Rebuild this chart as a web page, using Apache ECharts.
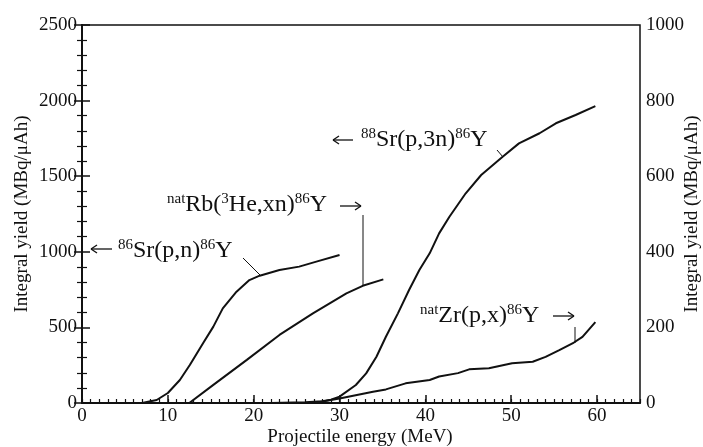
<!DOCTYPE html>
<html><head><meta charset="utf-8">
<script src="https://cdn.jsdelivr.net/npm/echarts@6/dist/echarts.min.js"></script>
<style>html,body{margin:0;padding:0;background:#fff}#c{width:703px;height:447px}</style>
</head><body><div id="c"></div>
<script>
// ---- data ----
const srPnEnergy = [7, 8.7, 10, 11.4, 12.56, 14.1, 15.3, 16.4, 18, 19.5, 20.7, 23, 25.3, 27.3, 30];
const srPnYield  = [0, 20, 66, 152, 251, 395, 505, 626, 736, 813, 842, 880, 902, 935, 979];

const rbEnergy = [12.5, 15.3, 19.2, 23, 26.9, 30.8, 32.7, 35.1];
const rbYield  = [0, 48, 114, 180, 237, 290, 310, 327];

const sr88Energy = [22, 26, 28, 29, 30, 31.9, 33.1, 34.3, 35.4, 36.8, 38.1, 39.3, 40.5, 41.6, 42.8, 44.7, 46.5, 49, 50.9, 53.3, 55.2, 57.5, 59.8];
const sr88Yield  = [0, 5, 12, 22, 42, 119, 196, 306, 438, 593, 747, 880, 990, 1122, 1232, 1387, 1508, 1629, 1717, 1784, 1850, 1905, 1964];

const zrEnergy = [27, 30, 33.9, 35.4, 37.7, 40.5, 41.6, 43.8, 45.1, 47.4, 50.1, 52.5, 54, 55.6, 57.3, 58.3, 59.8];
const zrYield  = [0, 12, 30, 36, 52, 61, 70, 79, 89, 92, 105, 109, 122, 140, 160, 175, 214];

const xAxisTitle = 'Projectile energy (MeV)';
const yAxisTitle = 'Integral yield (MBq/μAh)';

// ---- chart ----
const pairs = (xs, ys) => xs.map((x, i) => [x, ys[i]]);
const FF = 'Liberation Serif, Times New Roman, serif';
const INK = '#111';
const plain = v => String(v);
const chart = echarts.init(document.getElementById('c'), null, {renderer: 'canvas'});

const lineSeries = (name, xs, ys, yIdx) => ({
  name, type: 'line', xAxisIndex: 0, yAxisIndex: yIdx, data: pairs(xs, ys),
  showSymbol: false, smooth: false, lineStyle: {color: INK, width: 2}, silent: true, z: 5
});

const rich = {
  m: {fontSize: 24, fontFamily: FF, lineHeight: 26, color: INK},
  s: {fontSize: 15, fontFamily: FF, lineHeight: 16, verticalAlign: 'top', color: INK}
};
const label = (x, y, text) => ({type: 'text', x, y, z: 10, silent: true,
  style: {text, rich, align: 'left', verticalAlign: 'middle', fill: INK, fontFamily: FF}});
const seg = (x1, y1, x2, y2, w) => ({type: 'line', z: 10, silent: true,
  shape: {x1, y1, x2, y2}, style: {stroke: INK, lineWidth: w || 1}});
// arrow drawn as a thin shaft plus a two-stroke head; tip at (tx, y)
const arrow = (tx, tailx, y) => {
  const d = tx < tailx ? 1 : -1;
  return {type: 'group', children: [
    seg(tailx, y, tx, y, 1.3),
    seg(tx, y, tx + d * 6, y - 4, 1.3),
    seg(tx, y, tx + d * 6, y + 4, 1.3)
  ]};
};

chart.setOption({
  animation: false,
  backgroundColor: '#fff',
  grid: {left: 82, right: 63, top: 25, bottom: 44, show: true, borderColor: INK, borderWidth: 1.5},
  xAxis: [
    {type: 'value', position: 'bottom', min: 0, max: 65, interval: 10,
      axisLine: {show: true, lineStyle: {color: INK, width: 2}},
      axisTick: {show: true, inside: true, length: 8, lineStyle: {color: INK, width: 1.5}},
      minorTick: {show: false},
      splitLine: {show: false},
      axisLabel: {color: INK, fontFamily: FF, fontSize: 19, margin: 4, showMaxLabel: false, formatter: plain}},
    {type: 'value', position: 'bottom', min: 0, max: 65, interval: 1,
      axisLine: {show: false},
      axisTick: {show: true, inside: true, length: 4, lineStyle: {color: INK, width: 1.2}},
      splitLine: {show: false}, axisLabel: {show: false}}
  ],
  yAxis: [
    {type: 'value', position: 'left', min: 0, max: 2500, interval: 500,
      axisLine: {show: true, lineStyle: {color: INK, width: 2}},
      axisTick: {show: true, inside: true, length: 8, lineStyle: {color: INK, width: 1.5}},
      minorTick: {show: true, splitNumber: 5, length: 5, lineStyle: {color: INK, width: 1.2}},
      splitLine: {show: false},
      axisLabel: {color: INK, fontFamily: FF, fontSize: 19, margin: 5, formatter: plain}},
    {type: 'value', position: 'right', min: 0, max: 1000, interval: 200,
      axisLine: {show: true, lineStyle: {color: INK, width: 2}},
      axisTick: {show: true, inside: true, length: 8, lineStyle: {color: INK, width: 1.5}},
      minorTick: {show: true, splitNumber: 5, length: 5, lineStyle: {color: INK, width: 1.2}},
      splitLine: {show: false},
      axisLabel: {color: INK, fontFamily: FF, fontSize: 19, margin: 6, formatter: plain}}
  ],
  series: [
    lineSeries('86Sr(p,n)86Y', srPnEnergy, srPnYield, 0),
    lineSeries('natRb(3He,xn)86Y', rbEnergy, rbYield, 1),
    lineSeries('88Sr(p,3n)86Y', sr88Energy, sr88Yield, 0),
    lineSeries('natZr(p,x)86Y', zrEnergy, zrYield, 1)
  ],
  graphic: [
    // axis titles
    {type: 'text', x: 360, y: 437, silent: true,
      style: {text: xAxisTitle, align: 'center', verticalAlign: 'middle', fill: INK, font: '19px ' + FF}},
    {type: 'text', x: 22, y: 214, rotation: Math.PI / 2, silent: true,
      style: {text: yAxisTitle, align: 'center', verticalAlign: 'middle', fill: INK, font: '19px ' + FF}},
    {type: 'text', x: 692, y: 214, rotation: Math.PI / 2, silent: true,
      style: {text: yAxisTitle, align: 'center', verticalAlign: 'middle', fill: INK, font: '19px ' + FF}},
    // annotations
    arrow(91, 112, 249),
    label(118, 251, '{s|86}{m|Sr(p,n)}{s|86}{m|Y}'),
    seg(243, 258, 260, 275),

    label(167, 205, '{s|nat}{m|Rb(}{s|3}{m|He,xn)}{s|86}{m|Y}'),
    arrow(361, 340, 206),
    seg(363, 215, 363, 286),

    arrow(333, 353, 140),
    label(361, 140, '{s|88}{m|Sr(p,3n)}{s|86}{m|Y}'),
    seg(497, 150, 503, 157),

    label(420, 316, '{s|nat}{m|Zr(p,x)}{s|86}{m|Y}'),
    arrow(574, 553, 316),
    seg(575, 327, 575, 343)
  ]
});
</script>
</body></html>
